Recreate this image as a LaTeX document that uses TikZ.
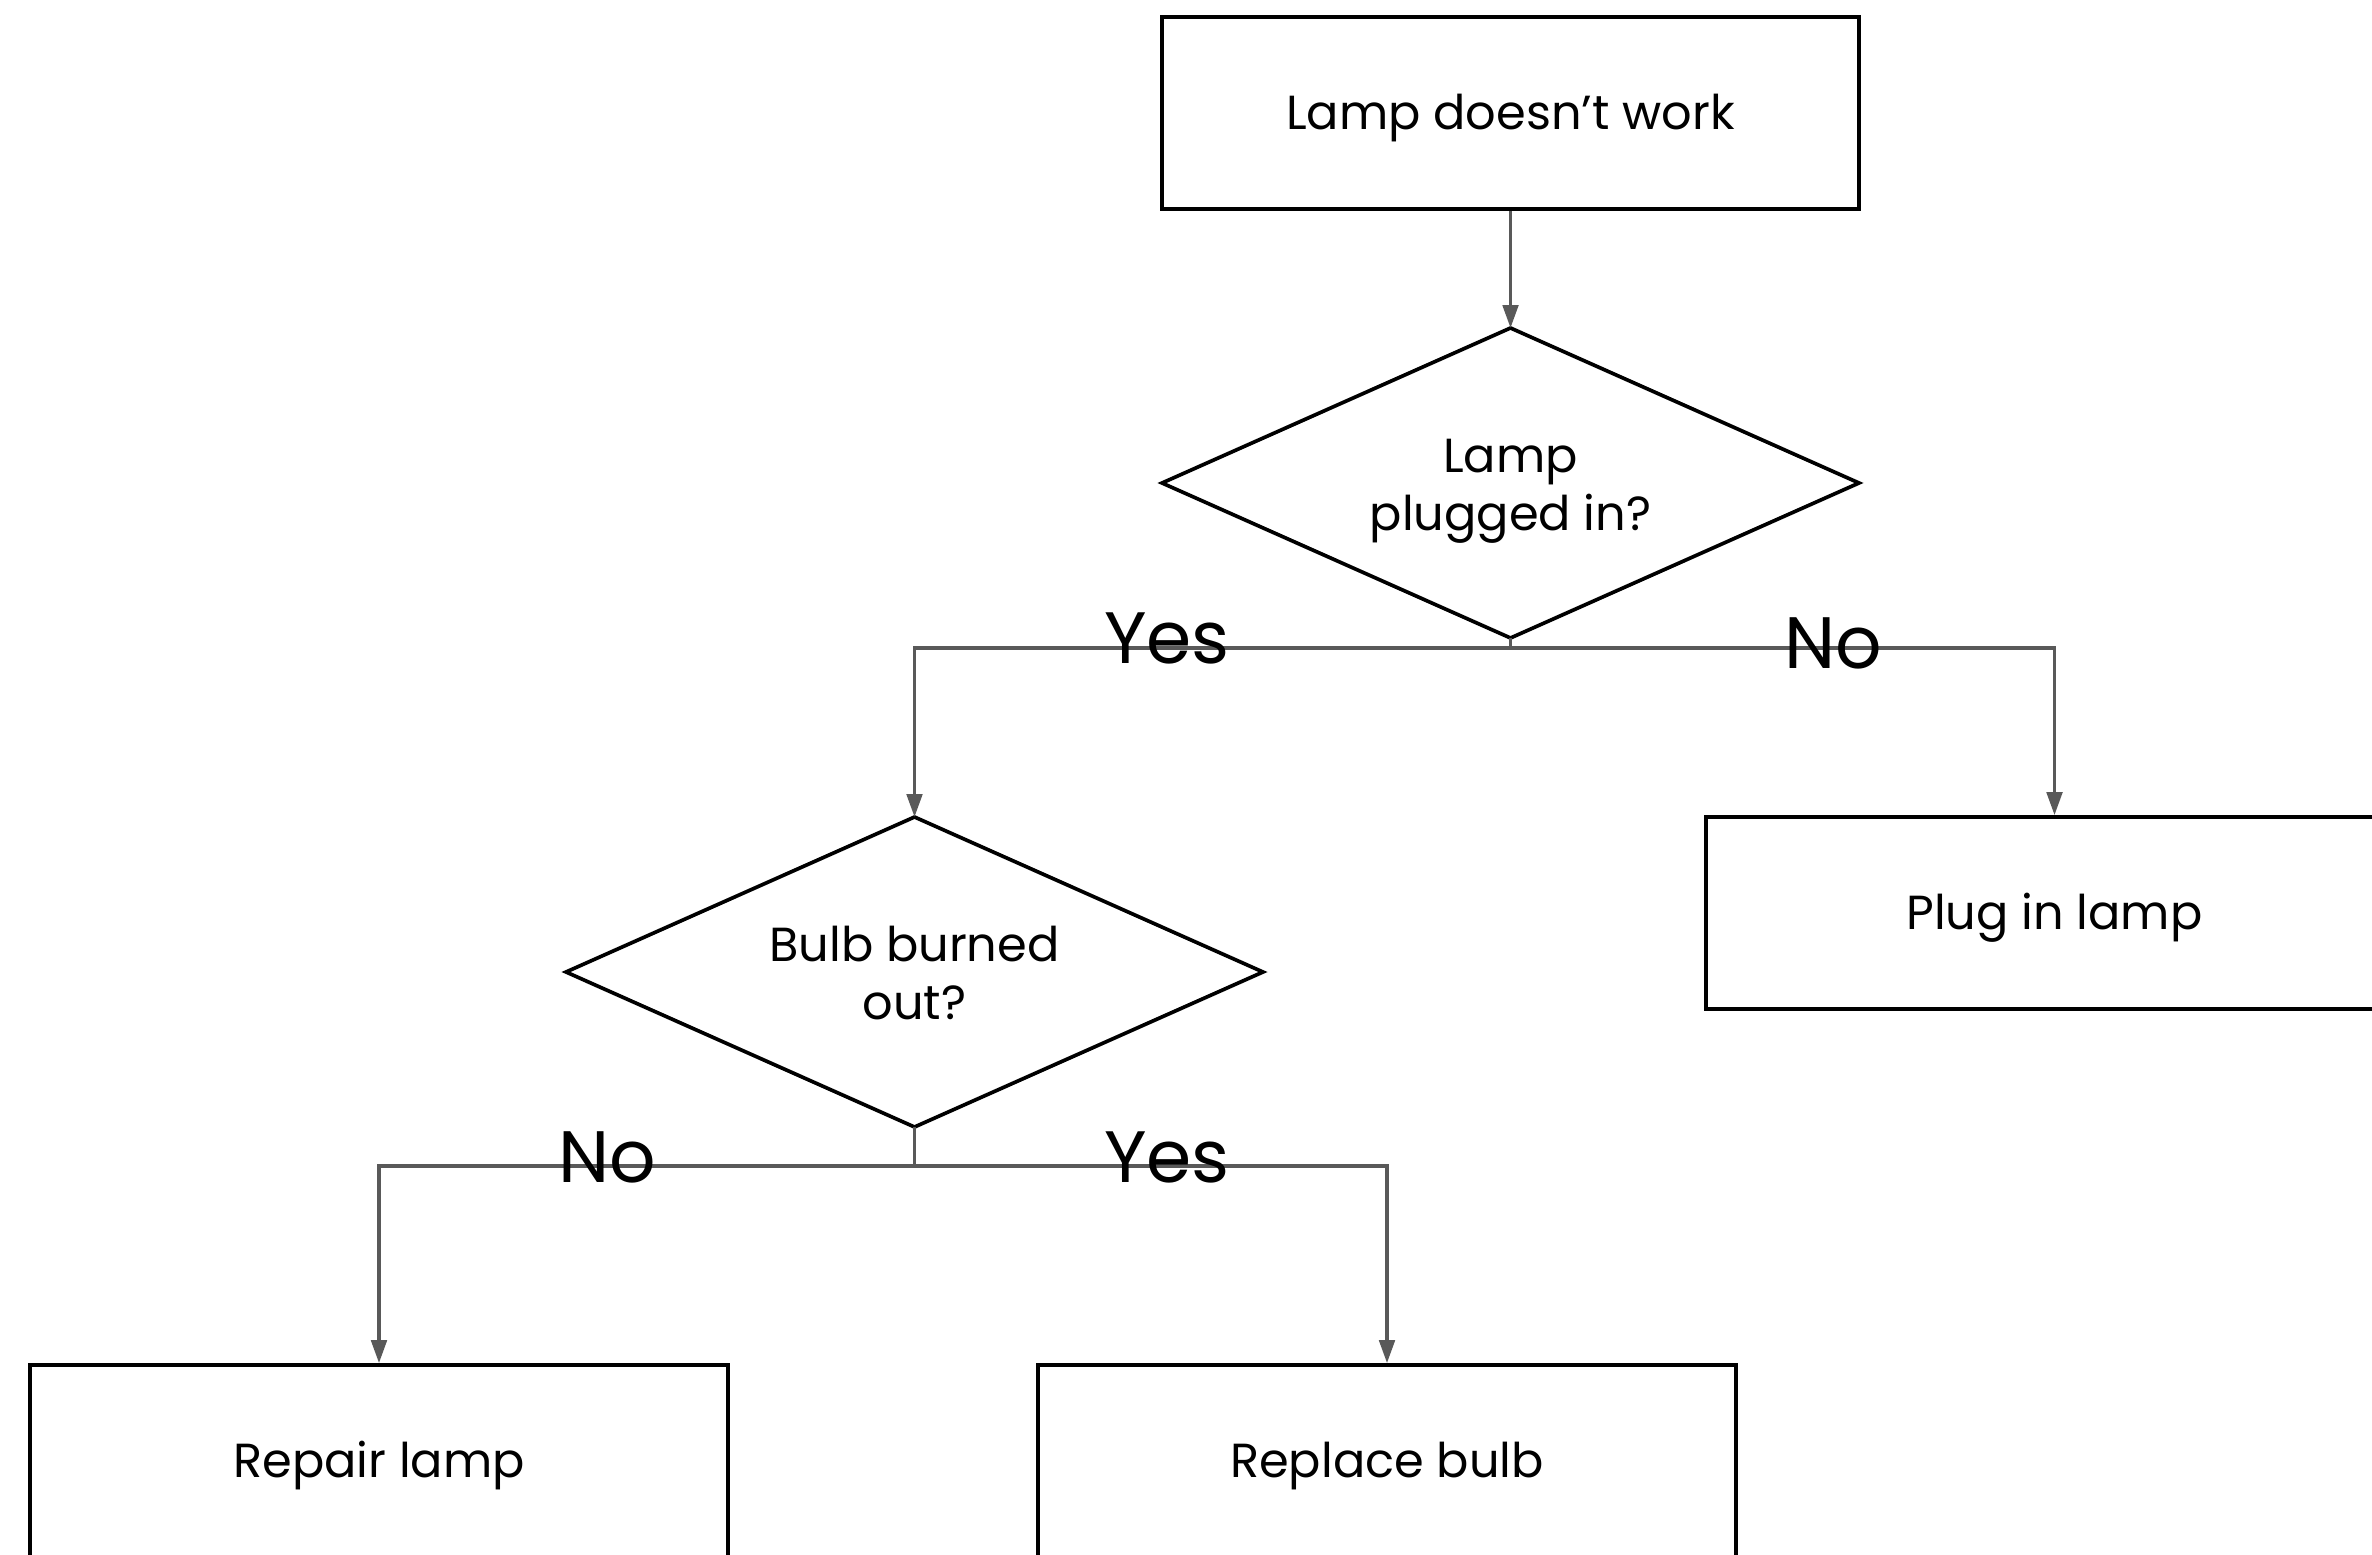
\documentclass[tikz,border=0pt]{standalone}
\usepackage{fontspec}
\setmainfont{Poppins}
\usetikzlibrary{arrows.meta}
\definecolor{conn}{HTML}{595959}
\tikzset{
  box/.style={draw=black, line width=1.05pt, rectangle, minimum width=6.97cm, minimum height=1.92cm, inner sep=0pt, text height=9.5pt, text depth=0pt, font=\fontsize{13.6}{16.5}\selectfont},
  dtext/.style={align=center, inner sep=0pt, font=\fontsize{13.6}{16.5}\selectfont},
  dshape/.style={draw=black, line width=1.05pt, line join=miter},
  conn/.style={draw=conn, line width=0.95pt, -{Triangle[length=6.5pt,width=4.4pt]}},
  connplain/.style={draw=conn, line width=0.95pt},
  lbl/.style={inner sep=0pt, font=\fontsize{20.7}{24}\selectfont}
}
\begin{document}
\begin{tikzpicture}[x=0.01cm,y=-0.01cm]
\useasboundingbox (0,0) rectangle (2372,1555);
\clip (0,0) rectangle (2372,1555);
\fill[white] (0,0) rectangle (2372,1555);
% boxes
\node[box] (start) at (1510.5,113) {Lamp doesn’t work};
\node[box] (plug) at (2054.5,913) {Plug in lamp};
\node[box] (repair) at (379,1461) {Repair lamp};
\node[box] (replace) at (1387,1461) {Replace bulb};
% diamond 1
\coordinate (d1t) at (1510.5,328);
\coordinate (d1b) at (1510.5,638);
\coordinate (d1l) at (1162,483);
\coordinate (d1r) at (1859,483);
\draw[dshape] (d1t) -- (d1r) -- (d1b) -- (d1l) -- cycle;
\node[dtext] (q1) at (1510.5,491) {Lamp\\plugged in?};
% diamond 2
\coordinate (d2t) at (914.5,817);
\coordinate (d2b) at (914.5,1127);
\coordinate (d2l) at (566,972);
\coordinate (d2r) at (1263,972);
\draw[dshape] (d2t) -- (d2r) -- (d2b) -- (d2l) -- cycle;
\node[dtext] (q2) at (914.5,973) {Bulb burned\\out?};
% junctions
\coordinate (j1) at (1510.5,648);
\coordinate (j2) at (914.5,1166);
% connectors
\draw[conn] (start.south) -- (d1t);
\draw[connplain] (d1b) -- (j1);
\draw[conn] (j1) -| (d2t);
\draw[conn] (j1) -| (plug.north);
\draw[connplain] (d2b) -- (j2);
\draw[conn] (j2) -| (repair.north);
\draw[conn] (j2) -| (replace.north);
% labels
\node[lbl] (yes1) at (1167,638) {Yes};
\node[lbl] (no1) at (1833,643) {No};
\node[lbl] (no2) at (607,1157) {No};
\node[lbl] (yes2) at (1167,1157) {Yes};
\end{tikzpicture}
\end{document}
